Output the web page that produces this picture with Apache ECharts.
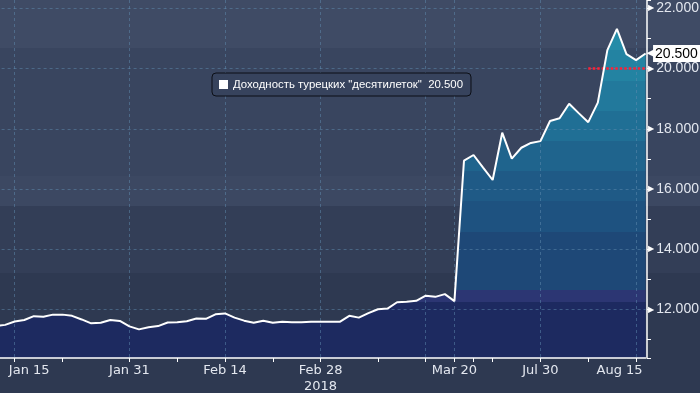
<!DOCTYPE html>
<html><head><meta charset="utf-8">
<script src="https://cdn.jsdelivr.net/npm/echarts@6/dist/echarts.min.js"></script>
<style>
html,body{margin:0;padding:0;}
#c{width:700px;height:393px;
background:linear-gradient(to bottom,#3f4b65 0px,#3f4b65 48px,#39455f 48px,#39455f 176px,#3c4862 176px,#3c4862 206px,#333e57 206px,#333e57 273px,#2e3951 273px,#2e3951 393px);}
</style>
</head><body><div id="c"></div>
<script>
// ---- data ----
const categories = [
 '2018-01-11','2018-01-12','2018-01-15','2018-01-16','2018-01-17','2018-01-18','2018-01-19','2018-01-22','2018-01-23','2018-01-24',
 '2018-01-25','2018-01-26','2018-01-29','2018-01-30','2018-01-31','2018-02-01','2018-02-02','2018-02-05','2018-02-06','2018-02-07',
 '2018-02-08','2018-02-09','2018-02-12','2018-02-13','2018-02-14','2018-02-15','2018-02-16','2018-02-19','2018-02-20','2018-02-21',
 '2018-02-22','2018-02-23','2018-02-26','2018-02-27','2018-02-28','2018-03-01','2018-03-02','2018-03-05','2018-03-06','2018-03-07',
 '2018-03-08','2018-03-09','2018-03-12','2018-03-13','2018-03-14','2018-03-15','2018-03-16','2018-03-19','2018-03-20','2018-07-18',
 '2018-07-19','2018-07-20','2018-07-23','2018-07-24','2018-07-25','2018-07-26','2018-07-27','2018-07-30','2018-07-31','2018-08-01',
 '2018-08-02','2018-08-03','2018-08-06','2018-08-07','2018-08-09','2018-08-10','2018-08-13','2018-08-15','2018-08-16'
];
const yields = [
 11.45, 11.49, 11.60, 11.65, 11.78, 11.76, 11.83, 11.83, 11.79, 11.67,
 11.54, 11.56, 11.65, 11.62, 11.44, 11.34, 11.41, 11.45, 11.57, 11.58,
 11.61, 11.70, 11.69, 11.84, 11.87, 11.73, 11.63, 11.56, 11.63, 11.56,
 11.59, 11.58, 11.58, 11.59, 11.59, 11.59, 11.59, 11.79, 11.73, 11.88,
 12.01, 12.03, 12.24, 12.26, 12.29, 12.46, 12.42, 12.51, 12.28, 16.94,
 17.13, 16.71, 16.30, 17.87, 17.01, 17.37, 17.53, 17.59, 18.26, 18.35,
 18.83, 18.52, 18.22, 18.87, 20.61, 21.32, 20.48, 20.28, 20.50
];
const seriesName = 'Доходность турецких "десятилеток"';
const labelDates = ['2018-01-15','2018-01-31','2018-02-14','2018-02-28','2018-03-20','2018-07-30','2018-08-15'];
const labelTexts = ['Jan 15','Jan 31','Feb 14','Feb 28\n2018','Mar 20','Jul 30','Aug 15'];
const tickDates = ['2018-01-15','2018-01-22','2018-01-31','2018-02-07','2018-02-14','2018-02-21','2018-02-28','2018-03-08',
 '2018-03-15','2018-03-20','2018-07-19','2018-07-23','2018-07-30','2018-08-06','2018-08-15'];
const gridDates = ['2018-01-15','2018-01-31','2018-02-14','2018-02-28','2018-03-15','2018-03-20','2018-07-30','2018-08-15'];
const refLevel = 20.0;
const refStartDate = '2018-08-06';
const yMin = 10.39, yMax = 22.276;

// area colour steps (value breakpoints, colours from bottom to top)
const bandBreaks = [12.24, 12.64, 14.58, 15.6, 16.6, 17.6, 18.6, 19.6, 20.6];
const bandColors = ['#1d2a60','#2c3673','#1e4877','#1e5280','#1f5a86','#1f648d','#206f95','#22799c','#2383a2','#258ca8'];

const tickSet = new Set(tickDates), gridSet = new Set(gridDates);
const lastVal = yields[yields.length - 1];
const FONT_AX = 'DejaVu Sans';
const FONT_Y = 'Liberation Sans Narrow, Liberation Sans';

const chart = echarts.init(document.getElementById('c'), null, {renderer: 'canvas'});

function xLabel(v) {
  const k = labelDates.indexOf(v);
  if (k < 0) return '';
  const t = labelTexts[k];
  if (k === 0) return '{r|' + t + '}';
  if (k === labelDates.length - 1) return '{l|' + t + '}';
  return t;
}

const option = {
  backgroundColor: 'transparent',
  animation: false,
  grid: {left: -4.4, right: 54.4, top: 0, bottom: 35, containLabel: false, outerBoundsMode: 'none'},
  legend: {
    left: 212, top: 73, padding: [6, 8, 6, 7],
    backgroundColor: '#37435d', borderColor: '#0c0f16', borderWidth: 1, borderRadius: 4,
    itemWidth: 9, itemHeight: 9, itemGap: 5,
    data: [{name: seriesName, icon: 'rect', itemStyle: {color: '#ffffff'}}],
    textStyle: {color: '#ffffff', fontSize: 11.4, fontFamily: 'Liberation Sans'},
    formatter: n => n + '  ' + lastVal.toFixed(3)
  },
  xAxis: {
    type: 'category', boundaryGap: false, data: categories, z: 3,
    axisLine: {lineStyle: {color: '#ffffff', width: 1.5}},
    axisTick: {show: true, length: 4, interval: (i, v) => tickSet.has(v), lineStyle: {color: '#ffffff'}},
    axisLabel: {
      interval: (i, v) => labelDates.indexOf(v) >= 0,
      formatter: xLabel, color: '#e3e7ef', fontSize: 13, fontFamily: FONT_AX, margin: 5, lineHeight: 16,
      rich: {
        r: {padding: [0, 0, 0, 29], color: '#e3e7ef', fontSize: 13, fontFamily: FONT_AX},
        l: {padding: [0, 33, 0, 0], color: '#e3e7ef', fontSize: 13, fontFamily: FONT_AX}
      }
    },
    splitLine: {show: true, interval: (i, v) => gridSet.has(v), lineStyle: {color: 'rgba(95,140,175,0.5)', type: [3, 3], width: 1}}
  },
  yAxis: [{
    type: 'value', position: 'right', offset: 1.4, min: yMin, max: yMax, splitNumber: 5, z: 3,
    axisLine: {show: true, lineStyle: {color: '#ffffff', width: 1.5}},
    axisTick: {show: false},
    axisLabel: {
      margin: 1, showMinLabel: false, showMaxLabel: false,
      formatter: v => '{t|▶}{v|' + v.toFixed(3) + '}',
      rich: {
        t: {color: '#ffffff', fontSize: 8, fontFamily: 'DejaVu Sans', padding: [0, 2, 0, 0]},
        v: {color: '#e3e7ef', fontSize: 14, fontFamily: FONT_Y}
      }
    },
    splitLine: {show: true, showMinLine: false, showMaxLine: false, lineStyle: {color: 'rgba(95,140,175,0.5)', type: [3, 3], width: 1}}
  }, {
    type: 'value', position: 'right', offset: 1.4, min: yMin, max: yMax, splitNumber: 12, z: 3,
    axisLine: {show: false},
    axisTick: {show: true, length: 4, lineStyle: {color: '#ffffff', width: 1}},
    axisLabel: {show: false},
    splitLine: {show: false}
  }],
  series: [{
    type: 'line', name: 'area', data: yields, symbol: 'none', z: 1,
    lineStyle: {width: 0}, areaStyle: {origin: 'start', opacity: 1, color: bandColors[0]},
    silent: true
  }, {
    type: 'line', name: seriesName, data: yields, symbol: 'none', z: 5,
    itemStyle: {color: '#ffffff'},
    lineStyle: {color: '#ffffff', width: 2},
    endLabel: {
      show: true, distance: 1,
      formatter: () => '{a|◀}{b|' + lastVal.toFixed(3) + '}',
      rich: {
        a: {color: '#ffffff', fontSize: 11, fontFamily: 'DejaVu Sans', padding: [0, -2, 0, 0]},
        b: {backgroundColor: '#ffffff', color: '#000000', fontSize: 14, fontFamily: FONT_Y, padding: [2, 3, 1, 2]}
      }
    },
    markLine: {
      symbol: 'none', silent: true, label: {show: false},
      emphasis: {disabled: true},
      lineStyle: {color: '#ff2035', type: [2.5, 2], width: 2.5, opacity: 1},
      data: [[{coord: [refStartDate, refLevel]}, {coord: [categories[categories.length - 1], refLevel]}]]
    }
  }]
};
chart.setOption(option);

// build the stepped area gradient in pixel space from the axis scale
const H = 393;
const stops = [];
const pix = v => chart.convertToPixel({yAxisIndex: 0}, v) / H;
for (let k = bandColors.length - 1; k >= 0; k--) {
  const hi = k === bandColors.length - 1 ? yMax + 5 : bandBreaks[k];
  const lo = k === 0 ? yMin - 5 : bandBreaks[k - 1];
  stops.push({offset: Math.max(0, Math.min(1, pix(hi))), color: bandColors[k]});
  stops.push({offset: Math.max(0, Math.min(1, pix(lo))), color: bandColors[k]});
}
chart.setOption({series: [{areaStyle: {color: {type: 'linear', x: 0, y: 0, x2: 0, y2: H, global: true, colorStops: stops}}}, {}]});
</script>
</body></html>
